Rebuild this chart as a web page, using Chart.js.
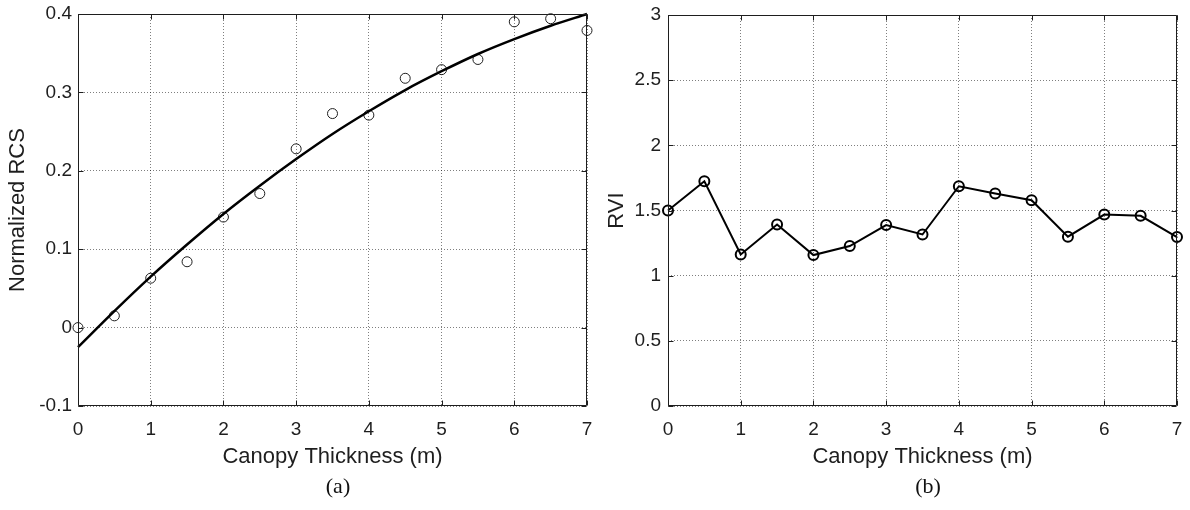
<!DOCTYPE html>
<html>
<head>
<meta charset="utf-8">
<script src="https://cdn.jsdelivr.net/npm/chart.js@4.4.1/dist/chart.umd.min.js"></script>
<style>
  html, body { margin: 0; padding: 0; background: #fff; }
  #wrap { position: relative; width: 1190px; height: 510px; overflow: hidden; }
  .panel { position: absolute; top: 0; width: 595px; height: 510px; }
  .cap {
    position: absolute; top: 486px;
    font-family: "Liberation Serif", "Times New Roman", serif;
    font-size: 22px; color: #111;
    transform: translate(-50%, -50%);
  }
</style>
</head>
<body>
<div id="wrap">
  <div class="panel" style="left:0"><canvas id="chartRcs" width="595" height="510"></canvas></div>
  <div class="panel" style="left:595px"><canvas id="chartRvi" width="595" height="510"></canvas></div>
  <div class="cap" style="left:338px">(a)</div>
  <div class="cap" style="left:928px">(b)</div>
</div>
<script>
// Canopy thickness samples (m)
const thickness = [0, 0.5, 1, 1.5, 2, 2.5, 3, 3.5, 4, 4.5, 5, 5.5, 6, 6.5, 7];
// Measured normalized RCS
const rcsMeasured = [0.0, 0.015, 0.063, 0.084, 0.141, 0.171, 0.228, 0.273, 0.271, 0.318, 0.329, 0.342, 0.390, 0.394, 0.379];
// Fitted trend of normalized RCS
const rcsFit = [-0.025, 0.021, 0.065, 0.106, 0.145, 0.181, 0.215, 0.247, 0.276, 0.303, 0.327, 0.349, 0.368, 0.385, 0.400];
// Radar vegetation index
const rvi = [1.50, 1.724, 1.163, 1.393, 1.158, 1.227, 1.388, 1.316, 1.686, 1.630, 1.579, 1.299, 1.469, 1.459, 1.296];

// Tick labels
const xTicks = [0, 1, 2, 3, 4, 5, 6, 7];
const rcsTicks = [-0.1, 0, 0.1, 0.2, 0.3, 0.4];
const rviTicks = [0, 0.5, 1, 1.5, 2, 2.5, 3];

const INK = '#1e1e1e';
const TICK_FONT = { family: '"Liberation Sans", Arial, Helvetica, sans-serif', size: 19 };
const TITLE_FONT = { family: '"Liberation Sans", Arial, Helvetica, sans-serif', size: 22 };

const pairs = ys => thickness.map((x, i) => ({ x, y: ys[i] }));

// Boxed axes with short inward tick marks on all four sides
const framePlugin = {
  id: 'frame',
  afterDraw(chart) {
    const { ctx, chartArea: a, scales } = chart;
    const L = Math.round(a.left) + 0.5, R = Math.round(a.right) - 0.5;
    const T = Math.round(a.top) + 0.5, B = Math.round(a.bottom) - 0.5;
    const len = 5;
    ctx.save();
    ctx.strokeStyle = INK;
    ctx.lineWidth = 1;
    ctx.beginPath();
    ctx.rect(L, T, R - L, B - T);
    scales.x.ticks.forEach(t => {
      const px = Math.round(scales.x.getPixelForValue(t.value)) + 0.5;
      ctx.moveTo(px, B); ctx.lineTo(px, B - len);
      ctx.moveTo(px, T); ctx.lineTo(px, T + len);
    });
    scales.y.ticks.forEach(t => {
      const py = Math.round(scales.y.getPixelForValue(t.value)) + 0.5;
      ctx.moveTo(L, py); ctx.lineTo(L + len, py);
      ctx.moveTo(R, py); ctx.lineTo(R - len, py);
    });
    ctx.stroke();
    ctx.restore();
  }
};

function axisX(titlePadBottom) {
  return {
    type: 'linear', min: 0, max: 7,
    afterBuildTicks: s => { s.ticks = xTicks.map(v => ({ value: v })); },
    afterFit: s => { s.height = 104; },
    grid: { color: 'rgba(0,0,0,0.5)', lineWidth: 1, drawTicks: true, tickLength: 12, tickColor: 'rgba(0,0,0,0)' },
    border: { display: false, dash: [1, 2] },
    ticks: { color: INK, font: TICK_FONT, padding: 0, maxRotation: 0, callback: v => String(v) },
    title: { display: true, text: 'Canopy Thickness (m)', color: INK, font: TITLE_FONT, padding: { top: 0, bottom: titlePadBottom } }
  };
}

function axisY(min, max, tickVals, label, width, tickGap, titlePad) {
  return {
    type: 'linear', min, max,
    afterBuildTicks: s => { s.ticks = tickVals.map(v => ({ value: v })); },
    afterFit: s => { s.width = width; },
    grid: { color: 'rgba(0,0,0,0.5)', lineWidth: 1, drawTicks: true, tickLength: tickGap, tickColor: 'rgba(0,0,0,0)' },
    border: { display: false, dash: [1, 2] },
    ticks: { color: INK, font: TICK_FONT, padding: 0, callback: v => String(v) },
    title: { display: true, text: label, color: INK, font: TITLE_FONT, padding: { top: titlePad, bottom: 0 } }
  };
}

const common = {
  responsive: false,
  animation: false,
  events: [],
  plugins: { legend: { display: false }, tooltip: { enabled: false } }
};

new Chart(document.getElementById('chartRcs'), {
  type: 'line',
  data: {
    datasets: [
      {
        label: 'Fit',
        data: pairs(rcsFit),
        borderColor: '#000', borderWidth: 2.5,
        pointRadius: 0, fill: false,
        cubicInterpolationMode: 'monotone',
        clip: false
      },
      {
        label: 'Measured',
        data: pairs(rcsMeasured),
        showLine: false,
        pointStyle: 'circle', pointRadius: 5,
        pointBorderColor: INK, pointBorderWidth: 1,
        pointBackgroundColor: 'rgba(0,0,0,0)',
        clip: false
      }
    ]
  },
  options: Object.assign({}, common, {
    layout: { padding: { left: 0, right: 8, top: 14, bottom: 0 } },
    scales: {
      x: axisX(40),
      y: axisY(-0.1, 0.4, rcsTicks, 'Normalized RCS', 78, 6, 5)
    }
  }),
  plugins: [framePlugin]
});

new Chart(document.getElementById('chartRvi'), {
  type: 'line',
  data: {
    datasets: [
      {
        label: 'RVI',
        data: pairs(rvi),
        borderColor: '#000', borderWidth: 2,
        tension: 0, fill: false,
        pointStyle: 'circle', pointRadius: 5,
        pointBorderColor: '#000', pointBorderWidth: 2,
        pointBackgroundColor: 'rgba(0,0,0,0)',
        clip: false
      }
    ]
  },
  options: Object.assign({}, common, {
    layout: { padding: { left: 0, right: 13, top: 15, bottom: 0 } },
    scales: {
      x: axisX(40),
      y: axisY(0, 3, rviTicks, 'RVI', 73, 7, 9)
    }
  }),
  plugins: [framePlugin]
});
</script>
</body>
</html>
